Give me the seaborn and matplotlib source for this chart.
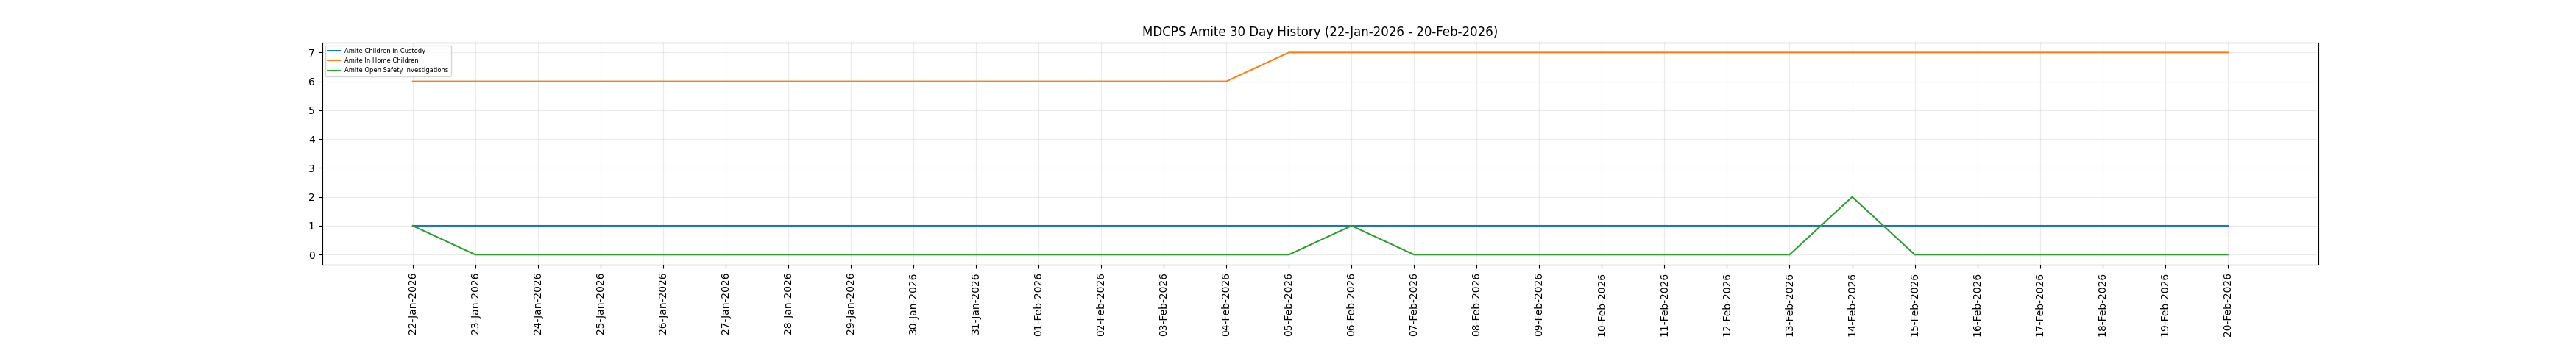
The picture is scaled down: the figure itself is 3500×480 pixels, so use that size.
import pandas as pd
import matplotlib
matplotlib.use('Agg')
import matplotlib.pyplot as plt
import matplotlib.dates as mdates
import seaborn as sns

# 日期范围
dates = pd.date_range('2026-01-22', '2026-02-20', freq='D')

# 各系列数据
custody = [1] * 30
in_home = [6] * 14 + [7] * 16
investigations = [1, 0, 0, 0, 0, 0, 0, 0, 0, 0, 0, 0, 0, 0, 0,
                  1, 0, 0, 0, 0, 0, 0, 0, 2, 0, 0, 0, 0, 0, 0]

series = {
    'Amite Children in Custody': custody,
    'Amite In Home Children': in_home,
    'Amite Open Safety Investigations': investigations,
}

fig, ax = plt.subplots(figsize=(35, 4.8), dpi=100)

for name, values in series.items():
    df = pd.DataFrame({'date': dates, 'count': values})
    sns.lineplot(data=df, x='date', y='count', label=name, ax=ax)

ax.set_xticks(dates)
ax.xaxis.set_major_formatter(mdates.DateFormatter('%d-%b-%Y'))
plt.setp(ax.get_xticklabels(), rotation=90)
ax.set_xlabel('')
ax.set_ylabel('')
ax.grid(True, alpha=0.25)
ax.legend(loc='upper left', fontsize=6)
ax.set_title('MDCPS Amite 30 Day History (22-Jan-2026 - 20-Feb-2026)')

plt.subplots_adjust(bottom=0.25)
plt.savefig('out.png')
